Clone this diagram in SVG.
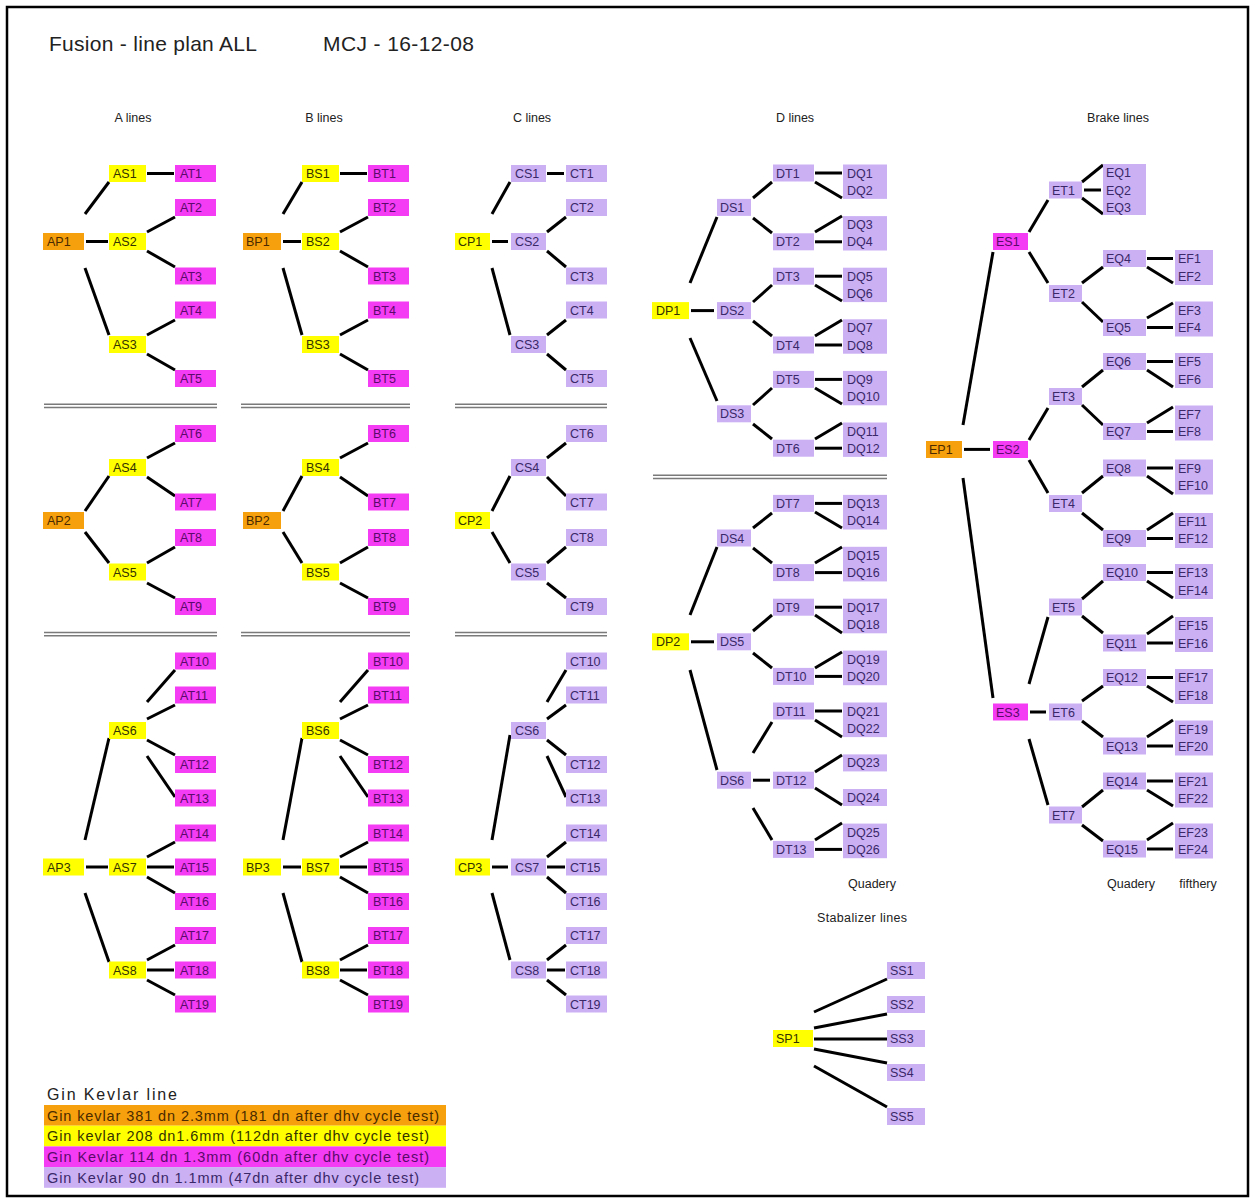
<svg xmlns="http://www.w3.org/2000/svg" width="1255" height="1202" viewBox="0 0 1255 1202">
<style>
.o{fill:#f5a00c}.y{fill:#ffff00}.m{fill:#f43cf4}.l{fill:#cbb0f4}
text{font-family:"Liberation Sans",Arial,sans-serif}
.t{font-size:12.5px}
.to{fill:#4a2a00}.ty{fill:#333300}.tm{fill:#5a0a6a}.tl{fill:#3a2868}
.h{font-size:12.5px;fill:#222;text-anchor:middle}
.c line{stroke:#000;stroke-width:3}
.sep line{stroke:#7a7a7a;stroke-width:1.5}
</style>
<rect x="7" y="7" width="1241" height="1189" fill="#fff" stroke="#000" stroke-width="2.5"/>
<text x="49" y="51" font-size="21" fill="#222" textLength="208">Fusion - line plan ALL</text>
<text x="323" y="51" font-size="21" fill="#222" textLength="151">MCJ - 16-12-08</text>
<text class="h" x="133" y="122">A lines</text>
<text class="h" x="324" y="122">B lines</text>
<text class="h" x="532" y="122">C lines</text>
<text class="h" x="795" y="122">D lines</text>
<text class="h" x="1118" y="122">Brake lines</text>
<text class="h" x="872" y="888">Quadery</text>
<text class="h" x="1131" y="888">Quadery</text>
<text class="h" x="1198" y="888">fifthery</text>
<text class="h" x="862" y="922" textLength="90">Stabalizer lines</text>
<g class="sep">
<line x1="44" y1="404.3" x2="217" y2="404.3"/><line x1="44" y1="407.5" x2="217" y2="407.5"/>
<line x1="241" y1="404.3" x2="410" y2="404.3"/><line x1="241" y1="407.5" x2="410" y2="407.5"/>
<line x1="455" y1="404.3" x2="607" y2="404.3"/><line x1="455" y1="407.5" x2="607" y2="407.5"/>
<line x1="44" y1="632.5" x2="217" y2="632.5"/><line x1="44" y1="635.7" x2="217" y2="635.7"/>
<line x1="241" y1="632.5" x2="410" y2="632.5"/><line x1="241" y1="635.7" x2="410" y2="635.7"/>
<line x1="455" y1="632.5" x2="607" y2="632.5"/><line x1="455" y1="635.7" x2="607" y2="635.7"/>
<line x1="653" y1="475.3" x2="887" y2="475.3"/><line x1="653" y1="478.5" x2="887" y2="478.5"/>
</g>
<g class="c" id="connectors">
<!-- A -->
<line x1="147" y1="173.5" x2="174" y2="173.5"/><line x1="85" y1="214" x2="109" y2="182"/><line x1="86" y1="241.5" x2="108" y2="241.5"/><line x1="85" y1="268" x2="109" y2="335"/>
<line x1="147" y1="232" x2="175" y2="217"/><line x1="147" y1="251" x2="175" y2="267"/><line x1="147" y1="335" x2="175" y2="320"/><line x1="147" y1="354" x2="175" y2="370"/>
<line x1="85" y1="511" x2="109" y2="476"/><line x1="85" y1="532" x2="109" y2="563"/><line x1="147" y1="458" x2="175" y2="443"/><line x1="147" y1="477" x2="175" y2="496"/><line x1="147" y1="563" x2="175" y2="547"/><line x1="147" y1="583" x2="175" y2="598"/>
<line x1="85" y1="840" x2="109" y2="738"/><line x1="86" y1="867" x2="108" y2="867"/><line x1="85" y1="893" x2="109" y2="962"/>
<line x1="147" y1="702" x2="175" y2="670"/><line x1="147" y1="719" x2="175" y2="705"/><line x1="147" y1="740" x2="175" y2="755"/><line x1="147" y1="756" x2="175" y2="797"/>
<line x1="147" y1="857" x2="175" y2="842"/><line x1="147" y1="867" x2="174" y2="867"/><line x1="147" y1="877" x2="175" y2="893"/>
<line x1="147" y1="960" x2="175" y2="945"/><line x1="147" y1="970" x2="174" y2="970"/><line x1="147" y1="980" x2="175" y2="995"/>
<!-- B -->
<line x1="340" y1="173.5" x2="367" y2="173.5"/><line x1="283" y1="214" x2="302" y2="182"/><line x1="283" y1="241.5" x2="301" y2="241.5"/><line x1="283" y1="268" x2="302" y2="335"/>
<line x1="340" y1="232" x2="368" y2="217"/><line x1="340" y1="251" x2="368" y2="267"/><line x1="340" y1="335" x2="368" y2="320"/><line x1="340" y1="354" x2="368" y2="370"/>
<line x1="283" y1="511" x2="302" y2="476"/><line x1="283" y1="532" x2="302" y2="563"/><line x1="340" y1="458" x2="368" y2="443"/><line x1="340" y1="477" x2="368" y2="496"/><line x1="340" y1="563" x2="368" y2="547"/><line x1="340" y1="583" x2="368" y2="598"/>
<line x1="283" y1="840" x2="302" y2="738"/><line x1="283" y1="867" x2="301" y2="867"/><line x1="283" y1="893" x2="302" y2="962"/>
<line x1="340" y1="702" x2="368" y2="670"/><line x1="340" y1="719" x2="368" y2="705"/><line x1="340" y1="740" x2="368" y2="755"/><line x1="340" y1="756" x2="368" y2="797"/>
<line x1="340" y1="857" x2="368" y2="842"/><line x1="340" y1="867" x2="367" y2="867"/><line x1="340" y1="877" x2="368" y2="893"/>
<line x1="340" y1="960" x2="368" y2="945"/><line x1="340" y1="970" x2="367" y2="970"/><line x1="340" y1="980" x2="368" y2="995"/>
<!-- C -->
<line x1="547" y1="173.5" x2="564" y2="173.5"/><line x1="492" y1="214" x2="510" y2="182"/><line x1="492" y1="241.5" x2="508" y2="241.5"/><line x1="492" y1="268" x2="510" y2="335"/>
<line x1="547" y1="232" x2="566" y2="217"/><line x1="547" y1="251" x2="566" y2="267"/><line x1="547" y1="335" x2="566" y2="320"/><line x1="547" y1="354" x2="566" y2="370"/>
<line x1="492" y1="511" x2="510" y2="476"/><line x1="492" y1="532" x2="510" y2="563"/><line x1="547" y1="458" x2="566" y2="443"/><line x1="547" y1="477" x2="566" y2="496"/><line x1="547" y1="563" x2="566" y2="547"/><line x1="547" y1="583" x2="566" y2="598"/>
<line x1="492" y1="840" x2="510" y2="735"/><line x1="492" y1="867" x2="508" y2="867"/><line x1="492" y1="893" x2="510" y2="960"/>
<line x1="547" y1="702" x2="566" y2="670"/><line x1="547" y1="719" x2="566" y2="705"/><line x1="547" y1="740" x2="566" y2="755"/><line x1="547" y1="756" x2="566" y2="797"/>
<line x1="547" y1="857" x2="566" y2="842"/><line x1="547" y1="867" x2="565" y2="867"/><line x1="547" y1="877" x2="566" y2="893"/>
<line x1="547" y1="960" x2="566" y2="945"/><line x1="547" y1="970" x2="565" y2="970"/><line x1="547" y1="980" x2="566" y2="995"/>
<!-- D1 -->
<line x1="815" y1="173" x2="842" y2="173"/><line x1="815" y1="182" x2="842" y2="198"/><line x1="753" y1="198" x2="772" y2="182"/><line x1="753" y1="218" x2="772" y2="233"/>
<line x1="815" y1="232" x2="842" y2="216"/><line x1="815" y1="241.8" x2="842" y2="241.8"/>
<line x1="690" y1="283" x2="717" y2="217"/><line x1="691" y1="310.6" x2="714" y2="310.6"/><line x1="690" y1="338" x2="717" y2="401"/>
<line x1="753" y1="302" x2="772" y2="285"/><line x1="753" y1="321" x2="772" y2="336"/>
<line x1="815" y1="276.2" x2="842" y2="276.2"/><line x1="815" y1="285" x2="842" y2="301"/><line x1="815" y1="336" x2="842" y2="320"/><line x1="815" y1="345" x2="842" y2="345"/>
<line x1="753" y1="405" x2="772" y2="388"/><line x1="753" y1="424" x2="772" y2="439"/>
<line x1="815" y1="379.4" x2="842" y2="379.4"/><line x1="815" y1="388" x2="842" y2="404"/><line x1="815" y1="439" x2="842" y2="423"/><line x1="815" y1="448.2" x2="842" y2="448.2"/>
<!-- D2 -->
<line x1="815" y1="503.4" x2="842" y2="503.4"/><line x1="815" y1="512" x2="842" y2="528"/><line x1="753" y1="528" x2="772" y2="513"/><line x1="753" y1="548" x2="772" y2="563"/>
<line x1="815" y1="563" x2="842" y2="547"/><line x1="815" y1="572.6" x2="842" y2="572.6"/>
<line x1="690" y1="615" x2="717" y2="547"/><line x1="691" y1="641.8" x2="714" y2="641.8"/><line x1="690" y1="670" x2="717" y2="770"/>
<line x1="753" y1="631" x2="772" y2="615"/><line x1="753" y1="653" x2="772" y2="668"/>
<line x1="815" y1="607.2" x2="842" y2="607.2"/><line x1="815" y1="615" x2="842" y2="633"/><line x1="815" y1="668" x2="842" y2="652"/><line x1="815" y1="676.4" x2="842" y2="676.4"/>
<line x1="753" y1="753" x2="772" y2="722"/><line x1="753" y1="780.2" x2="770" y2="780.2"/><line x1="753" y1="808" x2="772" y2="840"/>
<line x1="815" y1="711" x2="842" y2="711"/><line x1="815" y1="720" x2="842" y2="737"/><line x1="815" y1="772" x2="842" y2="755"/><line x1="815" y1="788" x2="842" y2="805"/>
<line x1="815" y1="840" x2="842" y2="823"/><line x1="815" y1="849.4" x2="842" y2="849.4"/>
<!-- E -->
<line x1="1082" y1="182" x2="1103" y2="165"/><line x1="1084" y1="190" x2="1101" y2="190"/><line x1="1082" y1="198" x2="1103" y2="214"/>
<line x1="1029" y1="232" x2="1048" y2="200"/><line x1="1029" y1="252" x2="1048" y2="283"/>
<line x1="1082" y1="283" x2="1103" y2="267"/><line x1="1082" y1="302" x2="1103" y2="322"/>
<line x1="1147" y1="258.5" x2="1173" y2="258.5"/><line x1="1147" y1="267" x2="1173" y2="283"/><line x1="1147" y1="318" x2="1173" y2="303"/><line x1="1147" y1="327.5" x2="1173" y2="327.5"/>
<line x1="963" y1="425" x2="993" y2="252"/><line x1="964" y1="449.4" x2="990" y2="449.4"/><line x1="963" y1="478" x2="993" y2="698"/>
<line x1="1029" y1="440" x2="1048" y2="408"/><line x1="1029" y1="460" x2="1048" y2="493"/>
<line x1="1082" y1="387" x2="1103" y2="370"/><line x1="1082" y1="405" x2="1103" y2="425"/>
<line x1="1147" y1="361.5" x2="1173" y2="361.5"/><line x1="1147" y1="370" x2="1173" y2="387"/><line x1="1147" y1="423" x2="1173" y2="407"/><line x1="1147" y1="431.5" x2="1173" y2="431.5"/>
<line x1="1082" y1="493" x2="1103" y2="476"/><line x1="1082" y1="513" x2="1103" y2="530"/>
<line x1="1147" y1="468" x2="1173" y2="468"/><line x1="1147" y1="476" x2="1173" y2="494"/><line x1="1147" y1="530" x2="1173" y2="513"/><line x1="1147" y1="538.5" x2="1173" y2="538.5"/>
<line x1="1029" y1="684" x2="1048" y2="617"/><line x1="1030" y1="712" x2="1046" y2="712"/><line x1="1029" y1="739" x2="1048" y2="805"/>
<line x1="1082" y1="599" x2="1103" y2="581"/><line x1="1082" y1="616" x2="1103" y2="633"/>
<line x1="1147" y1="572.5" x2="1173" y2="572.5"/><line x1="1147" y1="581" x2="1173" y2="598"/><line x1="1147" y1="634" x2="1173" y2="616"/><line x1="1147" y1="643" x2="1173" y2="643"/>
<line x1="1082" y1="701" x2="1103" y2="686"/><line x1="1082" y1="721" x2="1103" y2="737"/>
<line x1="1147" y1="677.5" x2="1173" y2="677.5"/><line x1="1147" y1="686" x2="1173" y2="702"/><line x1="1147" y1="737" x2="1173" y2="720"/><line x1="1147" y1="746" x2="1173" y2="746"/>
<line x1="1082" y1="807" x2="1103" y2="790"/><line x1="1082" y1="825" x2="1103" y2="841"/>
<line x1="1147" y1="781" x2="1173" y2="781"/><line x1="1147" y1="790" x2="1173" y2="806"/><line x1="1147" y1="840" x2="1173" y2="823"/><line x1="1147" y1="849" x2="1173" y2="849"/>
<!-- S -->
<line x1="814" y1="1012" x2="887" y2="979"/><line x1="814" y1="1028" x2="887" y2="1014"/><line x1="814" y1="1039" x2="887" y2="1039"/><line x1="814" y1="1049" x2="887" y2="1063"/><line x1="814" y1="1066" x2="887" y2="1107"/>
</g>
<!-- A nodes -->
<g id="AP1"><rect class="o" x="43" y="233" width="41" height="17"/><text class="t to" x="47" y="246">AP1</text></g>
<g id="AS1"><rect class="y" x="109" y="165" width="37" height="17"/><text class="t ty" x="113" y="178">AS1</text></g>
<g id="AS2"><rect class="y" x="109" y="233" width="37" height="17"/><text class="t ty" x="113" y="246">AS2</text></g>
<g id="AS3"><rect class="y" x="109" y="336" width="37" height="17"/><text class="t ty" x="113" y="349">AS3</text></g>
<g id="AT1"><rect class="m" x="175" y="165" width="41" height="17"/><text class="t tm" x="180" y="178">AT1</text></g>
<g id="AT2"><rect class="m" x="175" y="199" width="41" height="17"/><text class="t tm" x="180" y="212">AT2</text></g>
<g id="AT3"><rect class="m" x="175" y="267.5" width="41" height="17"/><text class="t tm" x="180" y="280.5">AT3</text></g>
<g id="AT4"><rect class="m" x="175" y="301.5" width="41" height="17"/><text class="t tm" x="180" y="314.5">AT4</text></g>
<g id="AT5"><rect class="m" x="175" y="370" width="41" height="17"/><text class="t tm" x="180" y="383">AT5</text></g>
<g id="AP2"><rect class="o" x="43" y="512" width="41" height="17"/><text class="t to" x="47" y="525">AP2</text></g>
<g id="AS4"><rect class="y" x="109" y="459" width="37" height="17"/><text class="t ty" x="113" y="472">AS4</text></g>
<g id="AS5"><rect class="y" x="109" y="563.5" width="37" height="17"/><text class="t ty" x="113" y="576.5">AS5</text></g>
<g id="AT6"><rect class="m" x="175" y="425" width="41" height="17"/><text class="t tm" x="180" y="438">AT6</text></g>
<g id="AT7"><rect class="m" x="175" y="493.5" width="41" height="17"/><text class="t tm" x="180" y="506.5">AT7</text></g>
<g id="AT8"><rect class="m" x="175" y="529" width="41" height="17"/><text class="t tm" x="180" y="542">AT8</text></g>
<g id="AT9"><rect class="m" x="175" y="598" width="41" height="17"/><text class="t tm" x="180" y="611">AT9</text></g>
<g id="AP3"><rect class="y" x="43" y="858.5" width="41" height="17"/><text class="t ty" x="47" y="871.5">AP3</text></g>
<g id="AS6"><rect class="y" x="109" y="722" width="37" height="17"/><text class="t ty" x="113" y="735">AS6</text></g>
<g id="AS7"><rect class="y" x="109" y="858.5" width="37" height="17"/><text class="t ty" x="113" y="871.5">AS7</text></g>
<g id="AS8"><rect class="y" x="109" y="961.5" width="37" height="17"/><text class="t ty" x="113" y="974.5">AS8</text></g>
<g id="AT10"><rect class="m" x="175" y="652.5" width="41" height="17"/><text class="t tm" x="180" y="665.5">AT10</text></g>
<g id="AT11"><rect class="m" x="175" y="686.5" width="41" height="17"/><text class="t tm" x="180" y="699.5">AT11</text></g>
<g id="AT12"><rect class="m" x="175" y="756" width="41" height="17"/><text class="t tm" x="180" y="769">AT12</text></g>
<g id="AT13"><rect class="m" x="175" y="789.5" width="41" height="17"/><text class="t tm" x="180" y="802.5">AT13</text></g>
<g id="AT14"><rect class="m" x="175" y="824.5" width="41" height="17"/><text class="t tm" x="180" y="837.5">AT14</text></g>
<g id="AT15"><rect class="m" x="175" y="858.5" width="41" height="17"/><text class="t tm" x="180" y="871.5">AT15</text></g>
<g id="AT16"><rect class="m" x="175" y="893" width="41" height="17"/><text class="t tm" x="180" y="906">AT16</text></g>
<g id="AT17"><rect class="m" x="175" y="927" width="41" height="17"/><text class="t tm" x="180" y="940">AT17</text></g>
<g id="AT18"><rect class="m" x="175" y="961.5" width="41" height="17"/><text class="t tm" x="180" y="974.5">AT18</text></g>
<g id="AT19"><rect class="m" x="175" y="995.5" width="41" height="17"/><text class="t tm" x="180" y="1008.5">AT19</text></g>
<!-- B nodes -->
<g id="BP1"><rect class="o" x="243" y="233" width="38" height="17"/><text class="t to" x="246" y="246">BP1</text></g>
<g id="BS1"><rect class="y" x="302" y="165" width="37" height="17"/><text class="t ty" x="306" y="178">BS1</text></g>
<g id="BS2"><rect class="y" x="302" y="233" width="37" height="17"/><text class="t ty" x="306" y="246">BS2</text></g>
<g id="BS3"><rect class="y" x="302" y="336" width="37" height="17"/><text class="t ty" x="306" y="349">BS3</text></g>
<g id="BT1"><rect class="m" x="368" y="165" width="41" height="17"/><text class="t tm" x="373" y="178">BT1</text></g>
<g id="BT2"><rect class="m" x="368" y="199" width="41" height="17"/><text class="t tm" x="373" y="212">BT2</text></g>
<g id="BT3"><rect class="m" x="368" y="267.5" width="41" height="17"/><text class="t tm" x="373" y="280.5">BT3</text></g>
<g id="BT4"><rect class="m" x="368" y="301.5" width="41" height="17"/><text class="t tm" x="373" y="314.5">BT4</text></g>
<g id="BT5"><rect class="m" x="368" y="370" width="41" height="17"/><text class="t tm" x="373" y="383">BT5</text></g>
<g id="BP2"><rect class="o" x="243" y="512" width="38" height="17"/><text class="t to" x="246" y="525">BP2</text></g>
<g id="BS4"><rect class="y" x="302" y="459" width="37" height="17"/><text class="t ty" x="306" y="472">BS4</text></g>
<g id="BS5"><rect class="y" x="302" y="563.5" width="37" height="17"/><text class="t ty" x="306" y="576.5">BS5</text></g>
<g id="BT6"><rect class="m" x="368" y="425" width="41" height="17"/><text class="t tm" x="373" y="438">BT6</text></g>
<g id="BT7"><rect class="m" x="368" y="493.5" width="41" height="17"/><text class="t tm" x="373" y="506.5">BT7</text></g>
<g id="BT8"><rect class="m" x="368" y="529" width="41" height="17"/><text class="t tm" x="373" y="542">BT8</text></g>
<g id="BT9"><rect class="m" x="368" y="598" width="41" height="17"/><text class="t tm" x="373" y="611">BT9</text></g>
<g id="BP3"><rect class="y" x="243" y="858.5" width="38" height="17"/><text class="t ty" x="246" y="871.5">BP3</text></g>
<g id="BS6"><rect class="y" x="302" y="722" width="37" height="17"/><text class="t ty" x="306" y="735">BS6</text></g>
<g id="BS7"><rect class="y" x="302" y="858.5" width="37" height="17"/><text class="t ty" x="306" y="871.5">BS7</text></g>
<g id="BS8"><rect class="y" x="302" y="961.5" width="37" height="17"/><text class="t ty" x="306" y="974.5">BS8</text></g>
<g id="BT10"><rect class="m" x="368" y="652.5" width="41" height="17"/><text class="t tm" x="373" y="665.5">BT10</text></g>
<g id="BT11"><rect class="m" x="368" y="686.5" width="41" height="17"/><text class="t tm" x="373" y="699.5">BT11</text></g>
<g id="BT12"><rect class="m" x="368" y="756" width="41" height="17"/><text class="t tm" x="373" y="769">BT12</text></g>
<g id="BT13"><rect class="m" x="368" y="789.5" width="41" height="17"/><text class="t tm" x="373" y="802.5">BT13</text></g>
<g id="BT14"><rect class="m" x="368" y="824.5" width="41" height="17"/><text class="t tm" x="373" y="837.5">BT14</text></g>
<g id="BT15"><rect class="m" x="368" y="858.5" width="41" height="17"/><text class="t tm" x="373" y="871.5">BT15</text></g>
<g id="BT16"><rect class="m" x="368" y="893" width="41" height="17"/><text class="t tm" x="373" y="906">BT16</text></g>
<g id="BT17"><rect class="m" x="368" y="927" width="41" height="17"/><text class="t tm" x="373" y="940">BT17</text></g>
<g id="BT18"><rect class="m" x="368" y="961.5" width="41" height="17"/><text class="t tm" x="373" y="974.5">BT18</text></g>
<g id="BT19"><rect class="m" x="368" y="995.5" width="41" height="17"/><text class="t tm" x="373" y="1008.5">BT19</text></g>
<!-- C nodes -->
<g id="CP1"><rect class="y" x="455" y="233" width="35" height="17"/><text class="t ty" x="458" y="246">CP1</text></g>
<g id="CS1"><rect class="l" x="511" y="165" width="35" height="17"/><text class="t tl" x="515" y="178">CS1</text></g>
<g id="CS2"><rect class="l" x="511" y="233" width="35" height="17"/><text class="t tl" x="515" y="246">CS2</text></g>
<g id="CS3"><rect class="l" x="511" y="336" width="35" height="17"/><text class="t tl" x="515" y="349">CS3</text></g>
<g id="CT1"><rect class="l" x="566" y="165" width="41" height="17"/><text class="t tl" x="570" y="178">CT1</text></g>
<g id="CT2"><rect class="l" x="566" y="199" width="41" height="17"/><text class="t tl" x="570" y="212">CT2</text></g>
<g id="CT3"><rect class="l" x="566" y="267.5" width="41" height="17"/><text class="t tl" x="570" y="280.5">CT3</text></g>
<g id="CT4"><rect class="l" x="566" y="301.5" width="41" height="17"/><text class="t tl" x="570" y="314.5">CT4</text></g>
<g id="CT5"><rect class="l" x="566" y="370" width="41" height="17"/><text class="t tl" x="570" y="383">CT5</text></g>
<g id="CP2"><rect class="y" x="455" y="512" width="35" height="17"/><text class="t ty" x="458" y="525">CP2</text></g>
<g id="CS4"><rect class="l" x="511" y="459" width="35" height="17"/><text class="t tl" x="515" y="472">CS4</text></g>
<g id="CS5"><rect class="l" x="511" y="563.5" width="35" height="17"/><text class="t tl" x="515" y="576.5">CS5</text></g>
<g id="CT6"><rect class="l" x="566" y="425" width="41" height="17"/><text class="t tl" x="570" y="438">CT6</text></g>
<g id="CT7"><rect class="l" x="566" y="493.5" width="41" height="17"/><text class="t tl" x="570" y="506.5">CT7</text></g>
<g id="CT8"><rect class="l" x="566" y="529" width="41" height="17"/><text class="t tl" x="570" y="542">CT8</text></g>
<g id="CT9"><rect class="l" x="566" y="598" width="41" height="17"/><text class="t tl" x="570" y="611">CT9</text></g>
<g id="CP3"><rect class="y" x="455" y="858.5" width="35" height="17"/><text class="t ty" x="458" y="871.5">CP3</text></g>
<g id="CS6"><rect class="l" x="511" y="722" width="35" height="17"/><text class="t tl" x="515" y="735">CS6</text></g>
<g id="CS7"><rect class="l" x="511" y="858.5" width="35" height="17"/><text class="t tl" x="515" y="871.5">CS7</text></g>
<g id="CS8"><rect class="l" x="511" y="961.5" width="35" height="17"/><text class="t tl" x="515" y="974.5">CS8</text></g>
<g id="CT10"><rect class="l" x="566" y="652.5" width="41" height="17"/><text class="t tl" x="570" y="665.5">CT10</text></g>
<g id="CT11"><rect class="l" x="566" y="686.5" width="41" height="17"/><text class="t tl" x="570" y="699.5">CT11</text></g>
<g id="CT12"><rect class="l" x="566" y="756" width="41" height="17"/><text class="t tl" x="570" y="769">CT12</text></g>
<g id="CT13"><rect class="l" x="566" y="789.5" width="41" height="17"/><text class="t tl" x="570" y="802.5">CT13</text></g>
<g id="CT14"><rect class="l" x="566" y="824.5" width="41" height="17"/><text class="t tl" x="570" y="837.5">CT14</text></g>
<g id="CT15"><rect class="l" x="566" y="858.5" width="41" height="17"/><text class="t tl" x="570" y="871.5">CT15</text></g>
<g id="CT16"><rect class="l" x="566" y="893" width="41" height="17"/><text class="t tl" x="570" y="906">CT16</text></g>
<g id="CT17"><rect class="l" x="566" y="927" width="41" height="17"/><text class="t tl" x="570" y="940">CT17</text></g>
<g id="CT18"><rect class="l" x="566" y="961.5" width="41" height="17"/><text class="t tl" x="570" y="974.5">CT18</text></g>
<g id="CT19"><rect class="l" x="566" y="995.5" width="41" height="17"/><text class="t tl" x="570" y="1008.5">CT19</text></g>
<!-- D nodes -->
<g id="DP1"><rect class="y" x="652" y="302.1" width="37" height="17"/><text class="t ty" x="656" y="315.1">DP1</text></g>
<g id="DS1"><rect class="l" x="717" y="198.9" width="34" height="17"/><text class="t tl" x="720" y="211.9">DS1</text></g>
<g id="DS2"><rect class="l" x="717" y="302.1" width="34" height="17"/><text class="t tl" x="720" y="315.1">DS2</text></g>
<g id="DS3"><rect class="l" x="717" y="405.3" width="34" height="17"/><text class="t tl" x="720" y="418.3">DS3</text></g>
<g id="DT1"><rect class="l" x="773" y="164.5" width="41" height="17"/><text class="t tl" x="776" y="177.5">DT1</text></g>
<g id="DT2"><rect class="l" x="773" y="233.3" width="41" height="17"/><text class="t tl" x="776" y="246.3">DT2</text></g>
<g id="DT3"><rect class="l" x="773" y="267.7" width="41" height="17"/><text class="t tl" x="776" y="280.7">DT3</text></g>
<g id="DT4"><rect class="l" x="773" y="336.5" width="41" height="17"/><text class="t tl" x="776" y="349.5">DT4</text></g>
<g id="DT5"><rect class="l" x="773" y="370.9" width="41" height="17"/><text class="t tl" x="776" y="383.9">DT5</text></g>
<g id="DT6"><rect class="l" x="773" y="439.7" width="41" height="17"/><text class="t tl" x="776" y="452.7">DT6</text></g>
<g id="DQ1-2"><rect class="l" x="843" y="164.5" width="44" height="34.4"/><text class="t tl" x="847" y="177.5">DQ1</text><text class="t tl" x="847" y="194.7">DQ2</text></g>
<g id="DQ3-4"><rect class="l" x="843" y="216.1" width="44" height="34.4"/><text class="t tl" x="847" y="229.1">DQ3</text><text class="t tl" x="847" y="246.3">DQ4</text></g>
<g id="DQ5-6"><rect class="l" x="843" y="267.7" width="44" height="34.4"/><text class="t tl" x="847" y="280.7">DQ5</text><text class="t tl" x="847" y="297.9">DQ6</text></g>
<g id="DQ7-8"><rect class="l" x="843" y="319.3" width="44" height="34.4"/><text class="t tl" x="847" y="332.3">DQ7</text><text class="t tl" x="847" y="349.5">DQ8</text></g>
<g id="DQ9-10"><rect class="l" x="843" y="370.9" width="44" height="34.4"/><text class="t tl" x="847" y="383.9">DQ9</text><text class="t tl" x="847" y="401.1">DQ10</text></g>
<g id="DQ11-12"><rect class="l" x="843" y="422.5" width="44" height="34.4"/><text class="t tl" x="847" y="435.5">DQ11</text><text class="t tl" x="847" y="452.7">DQ12</text></g>
<g id="DP2"><rect class="y" x="652" y="633.3" width="37" height="17"/><text class="t ty" x="656" y="646.3">DP2</text></g>
<g id="DS4"><rect class="l" x="717" y="529.5" width="34" height="17"/><text class="t tl" x="720" y="542.5">DS4</text></g>
<g id="DS5"><rect class="l" x="717" y="633.3" width="34" height="17"/><text class="t tl" x="720" y="646.3">DS5</text></g>
<g id="DS6"><rect class="l" x="717" y="771.7" width="34" height="17"/><text class="t tl" x="720" y="784.7">DS6</text></g>
<g id="DT7"><rect class="l" x="773" y="494.9" width="41" height="17"/><text class="t tl" x="776" y="507.9">DT7</text></g>
<g id="DT8"><rect class="l" x="773" y="564.1" width="41" height="17"/><text class="t tl" x="776" y="577.1">DT8</text></g>
<g id="DT9"><rect class="l" x="773" y="598.7" width="41" height="17"/><text class="t tl" x="776" y="611.7">DT9</text></g>
<g id="DT10"><rect class="l" x="773" y="667.9" width="41" height="17"/><text class="t tl" x="776" y="680.9">DT10</text></g>
<g id="DT11"><rect class="l" x="773" y="702.5" width="41" height="17"/><text class="t tl" x="776" y="715.5">DT11</text></g>
<g id="DT12"><rect class="l" x="773" y="771.7" width="41" height="17"/><text class="t tl" x="776" y="784.7">DT12</text></g>
<g id="DT13"><rect class="l" x="773" y="840.9" width="41" height="17"/><text class="t tl" x="776" y="853.9">DT13</text></g>
<g id="DQ13-14"><rect class="l" x="843" y="494.9" width="44" height="34.6"/><text class="t tl" x="847" y="507.9">DQ13</text><text class="t tl" x="847" y="525.2">DQ14</text></g>
<g id="DQ15-16"><rect class="l" x="843" y="546.8" width="44" height="34.6"/><text class="t tl" x="847" y="559.8">DQ15</text><text class="t tl" x="847" y="577.1">DQ16</text></g>
<g id="DQ17-18"><rect class="l" x="843" y="598.7" width="44" height="34.6"/><text class="t tl" x="847" y="611.7">DQ17</text><text class="t tl" x="847" y="629">DQ18</text></g>
<g id="DQ19-20"><rect class="l" x="843" y="650.6" width="44" height="34.6"/><text class="t tl" x="847" y="663.6">DQ19</text><text class="t tl" x="847" y="680.9">DQ20</text></g>
<g id="DQ21-22"><rect class="l" x="843" y="702.5" width="44" height="34.6"/><text class="t tl" x="847" y="715.5">DQ21</text><text class="t tl" x="847" y="732.8">DQ22</text></g>
<g id="DQ23"><rect class="l" x="843" y="754.4" width="44" height="17"/><text class="t tl" x="847" y="767.4">DQ23</text></g>
<g id="DQ24"><rect class="l" x="843" y="789" width="44" height="17"/><text class="t tl" x="847" y="802">DQ24</text></g>
<g id="DQ25-26"><rect class="l" x="843" y="823.6" width="44" height="34.6"/><text class="t tl" x="847" y="836.6">DQ25</text><text class="t tl" x="847" y="853.9">DQ26</text></g>
<!-- E nodes -->
<g id="EP1"><rect class="o" x="926" y="441" width="36" height="17"/><text class="t to" x="929" y="454">EP1</text></g>
<g id="ES1"><rect class="m" x="993" y="233" width="35" height="17"/><text class="t tm" x="996" y="246">ES1</text></g>
<g id="ES2"><rect class="m" x="993" y="441" width="35" height="17"/><text class="t tm" x="996" y="454">ES2</text></g>
<g id="ES3"><rect class="m" x="993" y="703.5" width="35" height="17"/><text class="t tm" x="996" y="716.5">ES3</text></g>
<g id="ET1"><rect class="l" x="1049" y="181.5" width="33" height="17"/><text class="t tl" x="1052" y="194.5">ET1</text></g>
<g id="ET2"><rect class="l" x="1049" y="285" width="33" height="17"/><text class="t tl" x="1052" y="298">ET2</text></g>
<g id="ET3"><rect class="l" x="1049" y="388" width="33" height="17"/><text class="t tl" x="1052" y="401">ET3</text></g>
<g id="ET4"><rect class="l" x="1049" y="495" width="33" height="17"/><text class="t tl" x="1052" y="508">ET4</text></g>
<g id="ET5"><rect class="l" x="1049" y="598.5" width="33" height="17"/><text class="t tl" x="1052" y="611.5">ET5</text></g>
<g id="ET6"><rect class="l" x="1049" y="703.5" width="33" height="17"/><text class="t tl" x="1052" y="716.5">ET6</text></g>
<g id="ET7"><rect class="l" x="1049" y="806.5" width="33" height="17"/><text class="t tl" x="1052" y="819.5">ET7</text></g>
<g id="EQ1-3"><rect class="l" x="1103" y="164" width="43" height="51"/><text class="t tl" x="1106" y="177">EQ1</text><text class="t tl" x="1106" y="194.5">EQ2</text><text class="t tl" x="1106" y="211.5">EQ3</text></g>
<g id="EQ4"><rect class="l" x="1103" y="250" width="43" height="17"/><text class="t tl" x="1106" y="263">EQ4</text></g>
<g id="EQ5"><rect class="l" x="1103" y="319" width="43" height="17"/><text class="t tl" x="1106" y="332">EQ5</text></g>
<g id="EQ6"><rect class="l" x="1103" y="353" width="43" height="17"/><text class="t tl" x="1106" y="366">EQ6</text></g>
<g id="EQ7"><rect class="l" x="1103" y="423" width="43" height="17"/><text class="t tl" x="1106" y="436">EQ7</text></g>
<g id="EQ8"><rect class="l" x="1103" y="459.5" width="43" height="17"/><text class="t tl" x="1106" y="472.5">EQ8</text></g>
<g id="EQ9"><rect class="l" x="1103" y="530" width="43" height="17"/><text class="t tl" x="1106" y="543">EQ9</text></g>
<g id="EQ10"><rect class="l" x="1103" y="564" width="43" height="17"/><text class="t tl" x="1106" y="577">EQ10</text></g>
<g id="EQ11"><rect class="l" x="1103" y="634.5" width="43" height="17"/><text class="t tl" x="1106" y="647.5">EQ11</text></g>
<g id="EQ12"><rect class="l" x="1103" y="669" width="43" height="17"/><text class="t tl" x="1106" y="682">EQ12</text></g>
<g id="EQ13"><rect class="l" x="1103" y="737.5" width="43" height="17"/><text class="t tl" x="1106" y="750.5">EQ13</text></g>
<g id="EQ14"><rect class="l" x="1103" y="772.5" width="43" height="17"/><text class="t tl" x="1106" y="785.5">EQ14</text></g>
<g id="EQ15"><rect class="l" x="1103" y="840.5" width="43" height="17"/><text class="t tl" x="1106" y="853.5">EQ15</text></g>
<g id="EF1-2"><rect class="l" x="1175" y="250" width="38" height="35"/><text class="t tl" x="1178" y="263">EF1</text><text class="t tl" x="1178" y="280.5">EF2</text></g>
<g id="EF3-4"><rect class="l" x="1175" y="301.5" width="38" height="35"/><text class="t tl" x="1178" y="314.5">EF3</text><text class="t tl" x="1178" y="332">EF4</text></g>
<g id="EF5-6"><rect class="l" x="1175" y="353" width="38" height="35"/><text class="t tl" x="1178" y="366">EF5</text><text class="t tl" x="1178" y="383.5">EF6</text></g>
<g id="EF7-8"><rect class="l" x="1175" y="405.5" width="38" height="35"/><text class="t tl" x="1178" y="418.5">EF7</text><text class="t tl" x="1178" y="436">EF8</text></g>
<g id="EF9-10"><rect class="l" x="1175" y="459.5" width="38" height="35"/><text class="t tl" x="1178" y="472.5">EF9</text><text class="t tl" x="1178" y="490">EF10</text></g>
<g id="EF11-12"><rect class="l" x="1175" y="513" width="38" height="35"/><text class="t tl" x="1178" y="525.5">EF11</text><text class="t tl" x="1178" y="543">EF12</text></g>
<g id="EF13-14"><rect class="l" x="1175" y="564" width="38" height="35"/><text class="t tl" x="1178" y="577">EF13</text><text class="t tl" x="1178" y="594.5">EF14</text></g>
<g id="EF15-16"><rect class="l" x="1175" y="617" width="38" height="35"/><text class="t tl" x="1178" y="630">EF15</text><text class="t tl" x="1178" y="647.5">EF16</text></g>
<g id="EF17-18"><rect class="l" x="1175" y="669" width="38" height="35"/><text class="t tl" x="1178" y="682">EF17</text><text class="t tl" x="1178" y="699.5">EF18</text></g>
<g id="EF19-20"><rect class="l" x="1175" y="720.5" width="38" height="35"/><text class="t tl" x="1178" y="733.5">EF19</text><text class="t tl" x="1178" y="750.5">EF20</text></g>
<g id="EF21-22"><rect class="l" x="1175" y="772.5" width="38" height="35"/><text class="t tl" x="1178" y="785.5">EF21</text><text class="t tl" x="1178" y="803">EF22</text></g>
<g id="EF23-24"><rect class="l" x="1175" y="823.5" width="38" height="35"/><text class="t tl" x="1178" y="836.5">EF23</text><text class="t tl" x="1178" y="853.5">EF24</text></g>
<!-- Stabilizer -->
<g id="SP1"><rect class="y" x="773" y="1030" width="40" height="17"/><text class="t ty" x="776" y="1043">SP1</text></g>
<g id="SS1"><rect class="l" x="887" y="962" width="38" height="17"/><text class="t tl" x="890" y="975">SS1</text></g>
<g id="SS2"><rect class="l" x="887" y="996" width="38" height="17"/><text class="t tl" x="890" y="1009">SS2</text></g>
<g id="SS3"><rect class="l" x="887" y="1030" width="38" height="17"/><text class="t tl" x="890" y="1043">SS3</text></g>
<g id="SS4"><rect class="l" x="887" y="1064" width="38" height="17"/><text class="t tl" x="890" y="1077">SS4</text></g>
<g id="SS5"><rect class="l" x="887" y="1108" width="38" height="17"/><text class="t tl" x="890" y="1121">SS5</text></g>
<!-- Legend -->
<g id="legend">
<text x="47" y="1100" font-size="16" fill="#222" textLength="130">Gin Kevlar line</text>
<rect class="o" x="44" y="1105" width="402" height="20.7"/>
<rect class="y" x="44" y="1125.7" width="402" height="20.7"/>
<rect class="m" x="44" y="1146.4" width="402" height="20.7"/>
<rect class="l" x="44" y="1167.1" width="402" height="20.7"/>
<text class="to" x="47" y="1120.5" font-size="14.5" textLength="392">Gin kevlar 381 dn 2.3mm (181 dn after dhv cycle test)</text>
<text class="ty" x="47" y="1141.2" font-size="14.5" textLength="382">Gin kevlar 208 dn1.6mm (112dn after dhv cycle test)</text>
<text class="tm" x="47" y="1161.9" font-size="14.5" textLength="382">Gin Kevlar 114 dn 1.3mm (60dn after dhv cycle test)</text>
<text class="tl" x="47" y="1182.6" font-size="14.5" textLength="372">Gin Kevlar 90 dn 1.1mm (47dn after dhv cycle test)</text>
</g>
</svg>
